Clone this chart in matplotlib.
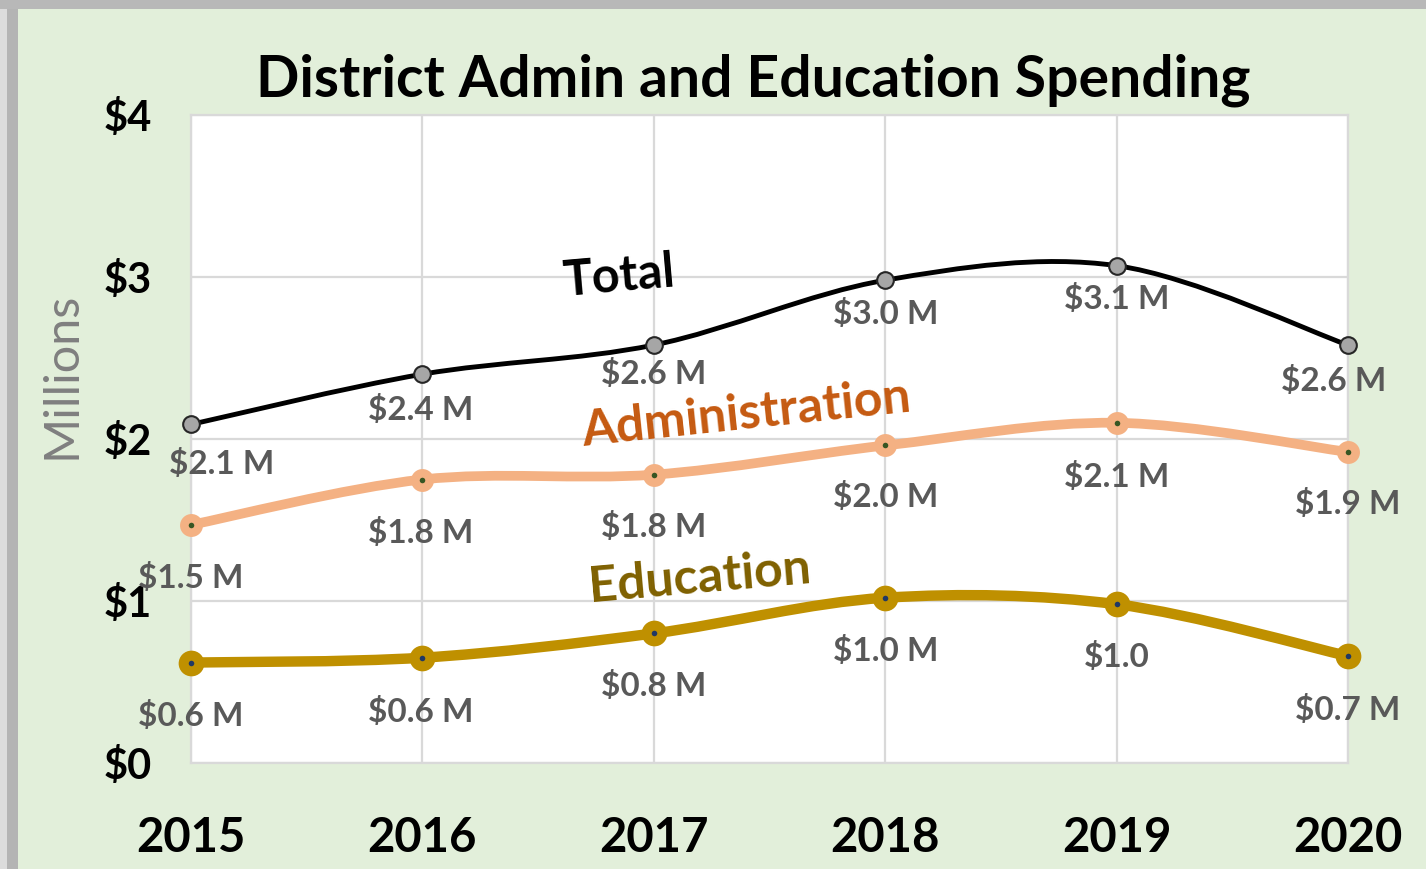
import matplotlib
matplotlib.use("Agg")
import matplotlib.pyplot as plt
from matplotlib.path import Path
from matplotlib.patches import PathPatch, Rectangle

plt.rcParams["font.family"] = ["Lato", "DejaVu Sans"]

years = [2015, 2016, 2017, 2018, 2019, 2020]
total = [2.09, 2.40, 2.58, 2.98, 3.07, 2.58]
admin = [1.47, 1.75, 1.78, 1.96, 2.10, 1.92]
education = [0.62, 0.65, 0.80, 1.02, 0.98, 0.66]
total_labels = ["$2.1 M", "$2.4 M", "$2.6 M", "$3.0 M", "$3.1 M", "$2.6 M"]
admin_labels = ["$1.5 M", "$1.8 M", "$1.8 M", "$2.0 M", "$2.1 M", "$1.9 M"]
edu_labels = ["$0.6 M", "$0.6 M", "$0.8 M", "$1.0 M", "$1.0", "$0.7 M"]
yticks = [0, 1, 2, 3, 4]
ytick_labels = ["$0", "$1", "$2", "$3", "$4"]

BG = "#e2efda"
GRID = "#d9d9d9"
LABEL_GRAY = "#595959"


def smooth_path(xs, ys):
    """Excel-style smoothed line as cubic bezier path."""
    pts = list(zip(xs, ys))
    n = len(pts)
    verts = [pts[0]]
    codes = [Path.MOVETO]
    for i in range(n - 1):
        p0 = pts[i - 1] if i > 0 else pts[i]
        p1 = pts[i]
        p2 = pts[i + 1]
        p3 = pts[i + 2] if i + 2 < n else pts[i + 1]
        c1 = (p1[0] + (p2[0] - p0[0]) / 6, p1[1] + (p2[1] - p0[1]) / 6)
        c2 = (p2[0] - (p3[0] - p1[0]) / 6, p2[1] - (p3[1] - p1[1]) / 6)
        verts += [c1, c2, p2]
        codes += [Path.CURVE4] * 3
    return Path(verts, codes)


fig = plt.figure(figsize=(14.26, 8.69), dpi=100)
fig.patch.set_facecolor(BG)

# frame / shadow on left and top
fig.patches.append(Rectangle((0, 0), 18 / 1426, 1, transform=fig.transFigure,
                             facecolor="#b4b4b4", edgecolor="none", zorder=0))
fig.patches.append(Rectangle((0, 0), 7 / 1426, 1, transform=fig.transFigure,
                             facecolor="#dcdcdc", edgecolor="none", zorder=0))
fig.patches.append(Rectangle((0, 1 - 9 / 869), 1, 9 / 869, transform=fig.transFigure,
                             facecolor="#b8b8b8", edgecolor="none", zorder=0))

ax = fig.add_axes([191 / 1426, 106 / 869, 1157 / 1426, 648 / 869])
ax.set_facecolor("white")
ax.set_xlim(2015, 2020)
ax.set_ylim(0, 4)
ax.set_xticks(years)
ax.set_yticks(yticks)
ax.set_yticklabels(ytick_labels)
ax.grid(True, color=GRID, linewidth=1.6)
ax.set_axisbelow(True)
for s in ax.spines.values():
    s.set_color(GRID)
    s.set_linewidth(1.6)
ax.tick_params(length=0)
ax.tick_params(axis="y", pad=28, labelsize=30)
ax.tick_params(axis="x", pad=38, labelsize=34)
for lbl in ax.get_xticklabels() + ax.get_yticklabels():
    lbl.set_fontweight("bold")

series = [
    (total, total_labels, "black", 3.5, "#a6a6a6", "#262626", 12, None,
     [(31, -40), (-2, -36), (0, -29), (0, -34), (0, -33), (-14, -36)]),
    (admin, admin_labels, "#f4b183", 7.0, "#f4b183", "#f4b183", 15, "#375623",
     [(0, -53), (-2, -53), (0, -52), (0, -52), (0, -54), (0, -52)]),
    (education, edu_labels, "#bf9000", 7.5, "#bf9000", "#bf9000", 17, "#203864",
     [(0, -53), (-2, -54), (0, -53), (0, -53), (0, -53), (0, -54)]),
]

for vals, labels, color, lw, mface, medge, ms, dot, offsets in series:
    ax.add_patch(PathPatch(smooth_path(years, vals), facecolor="none",
                           edgecolor=color, linewidth=lw, capstyle="round", zorder=3))
    ax.plot(years, vals, linestyle="none", marker="o", markersize=ms,
            markerfacecolor=mface, markeredgecolor=medge, markeredgewidth=1.5,
            zorder=4, clip_on=False)
    if dot:
        ax.plot(years, vals, linestyle="none", marker="o", markersize=4,
                markerfacecolor=dot, markeredgecolor="none", zorder=5, clip_on=False)
    for x, y, t, off in zip(years, vals, labels, offsets):
        ax.annotate(t, (x, y), xytext=off, textcoords="offset pixels",
                    ha="center", va="center", fontsize=24, fontweight="bold",
                    color=LABEL_GRAY, annotation_clip=False, zorder=6)

# series names
ax.text(2016.85, 3.0, "Total", fontsize=35, fontweight="bold", color="black",
        rotation=5, ha="center", va="center", zorder=6)
ax.text(2017.4, 2.15, "Administration", fontsize=36, fontweight="bold",
        color="#c55a11", rotation=6, ha="center", va="center", zorder=6)
ax.text(2017.2, 1.14, "Education", fontsize=36, fontweight="bold",
        color="#7f6000", rotation=5, ha="center", va="center", zorder=6)

fig.text(753 / 1426, 1 - 80 / 869, "District Admin and Education Spending",
         fontsize=41, fontweight="bold", ha="center", va="center")
fig.text(62 / 1426, 1 - 375 / 869, "Millions", fontsize=35, color="#7f7f7f",
         rotation=90, ha="center", va="center")

fig.savefig("out.png", dpi=100, facecolor=fig.get_facecolor())
